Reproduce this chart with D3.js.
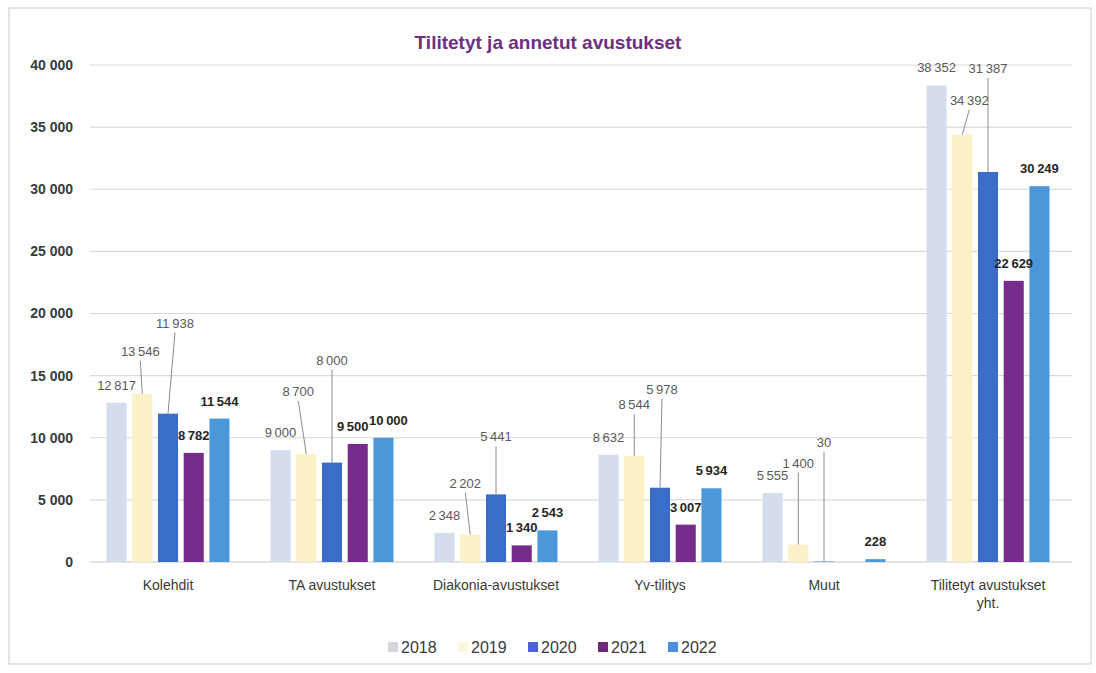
<!DOCTYPE html>
<html>
<head>
<meta charset="utf-8">
<script src="https://cdn.jsdelivr.net/npm/d3@7"></script>
<style>
body { margin:0; background:#fff; }
svg text { font-family: "Liberation Sans", Arial, sans-serif; }
</style>
</head>
<body>
<div id="chart"></div>
<script>
const width = 1096, height = 673,
margin = { top: 65, bottom: 111, left: 88, right: 24 };

// data
const categories = ["Kolehdit","TA avustukset","Diakonia-avustukset","Yv-tilitys","Muut","Tilitetyt avustukset yht."];
const years = ["2018","2019","2020","2021","2022"];
const v2018 = [12817, 9000, 2348, 8632, 5555, 38352];
const v2019 = [13546, 8700, 2202, 8544, 1400, 34392];
const v2020 = [11938, 8000, 5441, 5978, 30, 31387];
const v2021 = [8782, 9500, 1340, 3007, null, 22629];
const v2022 = [11544, 10000, 2543, 5934, 228, 30249];
const yTicks = [0,5000,10000,15000,20000,25000,30000,35000,40000];

const series = [v2018, v2019, v2020, v2021, v2022];
const colors = ["#d5dcee","#fcf0c6","#3a6cc9","#772c8b","#4b97da"];
const legendColors = ["#d3d6dc","#fbf7df","#4e63d8","#6b2a7c","#4d8ee0"];

// label moves: [year index, category index, lift px, dx] (lift > 0 gets a leader line)
const leaders = [
  [1,0,25,-2],[2,0,73,7],
  [1,1,45,-8],[2,1,85,0],[3,1,0,-5],[4,1,0,5],
  [1,2,34,-5],[2,2,40,0],
  [1,3,34,0],[2,3,81,2],
  [1,4,64,0],[2,4,102,0],
  [1,5,17,7],[2,5,86,0]
];

const rows = [];
categories.forEach((c,ci) => {
  years.forEach((y,yi) => {
    const v = series[yi][ci];
    if (v == null) return;
    const l = leaders.find(d => d[0]===yi && d[1]===ci);
    rows.push({cat:c, year:y, yi:yi, value:v, lift: l ? l[2] : 0, dx: l ? l[3] : 0});
  });
});

const fmt = v => d3.format(",")(v).replace(/,/g, "\u2009");

const svg = d3.select("#chart").append("svg")
  .attr("width", width).attr("height", height);

// frame
svg.append("rect")
  .attr("x", 9).attr("y", 8).attr("width", 1082).attr("height", 656)
  .attr("fill", "#fff").attr("stroke", "#dcdcdc").attr("stroke-width", 1.5);

const x0 = d3.scaleBand()
  .domain(categories)
  .range([86, 1070])
  .paddingInner(0.25)
  .paddingOuter(0.125);

const x1 = d3.scaleBand()
  .domain(years)
  .range([0, x0.bandwidth()])
  .paddingInner(0.22);

const y = d3.scaleLinear()
  .domain([0, 40000])
  .range([height - margin.bottom, margin.top]);

// grid
svg.append("g")
  .selectAll("line")
  .data(yTicks)
  .join("line")
  .attr("x1", 90).attr("x2", 1072)
  .attr("y1", d => y(d)).attr("y2", d => y(d))
  .attr("stroke", d => d === 0 ? "#c8c8c8" : "#d9d9d9")
  .attr("stroke-width", 1.2);

// y axis labels
const yAxis = d3.axisLeft(y).tickValues(yTicks).tickFormat(d => d3.format(",")(d).replace(/,/g, " ")).tickSize(0).tickPadding(0);
const ga = svg.append("g")
  .attr("transform", "translate(73,0)")
  .call(yAxis);
ga.select(".domain").remove();
ga.selectAll("text")
  .attr("fill", "#3a3a3a")
  .style("font-size", "14px")
  .style("font-weight", "bold");

// bars
const barG = svg.append("g");
barG.selectAll("rect")
  .data(rows)
  .join("rect")
  .attr("x", d => x0(d.cat) + x1(d.year))
  .attr("width", x1.bandwidth())
  .attr("y", d => y(d.value))
  .attr("height", d => Math.max(y(0) - y(d.value), d.value > 100 ? 2 : 0))
  .attr("fill", d => colors[d.yi]);

// leader lines
barG.selectAll("line")
  .data(rows.filter(d => d.lift > 0))
  .join("line")
  .attr("x1", d => x0(d.cat) + x1(d.year) + x1.bandwidth()/2)
  .attr("y1", d => y(d.value))
  .attr("x2", d => x0(d.cat) + x1(d.year) + x1.bandwidth()/2 + d.dx)
  .attr("y2", d => y(d.value) - d.lift - 8)
  .attr("stroke", "#8c8c8c")
  .attr("stroke-width", 1);

// value labels
barG.selectAll("text")
  .data(rows)
  .join("text")
  .attr("x", d => x0(d.cat) + x1(d.year) + x1.bandwidth()/2 + d.dx)
  .attr("y", d => y(d.value) - 13 - d.lift)
  .attr("text-anchor", "middle")
  .style("font-size", "13px")
  .style("font-weight", d => d.yi >= 3 ? "bold" : "normal")
  .attr("fill", d => d.yi >= 3 ? "#262626" : "#595959")
  .text(d => fmt(d.value));

// category labels
const catG = svg.append("g");
categories.forEach(c => {
  const cx = x0(c) + x0.bandwidth()/2;
  const t = catG.append("text")
    .attr("x", cx).attr("y", 590)
    .attr("text-anchor", "middle")
    .attr("fill", "#3a3a3a")
    .style("font-size", "14px");
  if (c === "Tilitetyt avustukset yht.") {
    t.append("tspan").attr("x", cx).attr("dy", 0).text("Tilitetyt avustukset");
    t.append("tspan").attr("x", cx).attr("dy", 18).text("yht.");
  } else {
    t.text(c);
  }
});

// title
svg.append("text")
  .attr("x", 548).attr("y", 49)
  .attr("text-anchor", "middle")
  .attr("fill", "#6d2f7f")
  .style("font-size", "19px")
  .style("font-weight", "bold")
  .text("Tilitetyt ja annetut avustukset");

// legend
const lg = svg.append("g").attr("transform", "translate(388,647)");
const item = lg.selectAll("g")
  .data(years)
  .join("g")
  .attr("transform", (d,i) => `translate(${i*70},0)`);
item.append("rect")
  .attr("x", 0).attr("y", -5)
  .attr("width", 10).attr("height", 10)
  .attr("fill", (d,i) => legendColors[i]);
item.append("text")
  .attr("x", 13).attr("y", 6)
  .attr("fill", "#3a3a3a")
  .style("font-size", "16px")
  .text(d => d);
</script>
</body>
</html>
